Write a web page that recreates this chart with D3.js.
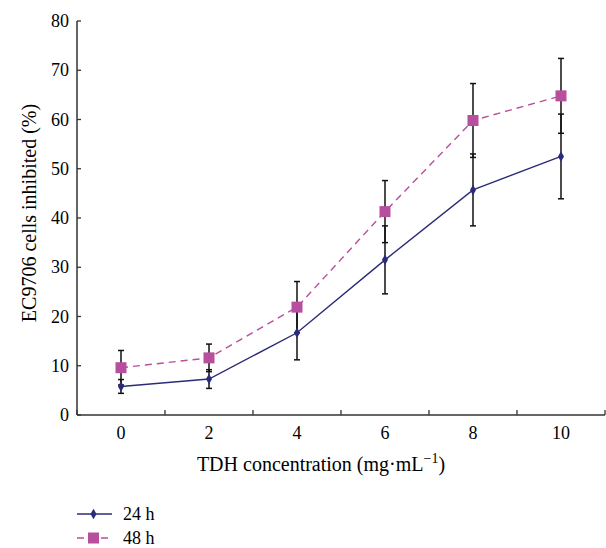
<!DOCTYPE html>
<html>
<head>
<meta charset="utf-8">
<script src="https://cdn.jsdelivr.net/npm/d3@7"></script>
<style>
  body { margin: 0; background: #fff; }
</style>
</head>
<body>
<div id="chart"></div>
<script>
var WIDTH = 606;
var HEIGHT = 548;
var FONT = "'Liberation Serif'";

var concentrations = ["0", "2", "4", "6", "8", "10"];
var yTicks = [0, 10, 20, 30, 40, 50, 60, 70, 80];

var mean24 = [5.8, 7.3, 16.7, 31.5, 45.7, 52.5];
var err24 = [1.4, 1.9, 5.5, 6.9, 7.3, 8.6];
var mean48 = [9.6, 11.6, 21.9, 41.3, 59.8, 64.8];
var err48 = [3.5, 2.8, 5.2, 6.3, 7.5, 7.6];

var seriesNames = ["24 h", "48 h"];
var COLORS = ["#2b2c78", "#b84f9e"];

var margin = {left: 77, right: 1, top: 21, bottom: 133};

var svg = d3.select("#chart").append("svg")
  .attr("width", WIDTH)
  .attr("height", HEIGHT);

var x = d3.scaleBand()
  .domain(concentrations)
  .range([margin.left, WIDTH - margin.right]);

var y = d3.scaleLinear()
  .domain([0, 80])
  .range([HEIGHT - margin.bottom, margin.top]);

// x axis: ticks between the categories, pointing up
var x0 = HEIGHT - margin.bottom;
var bounds = concentrations.map(function(c) { return x(c); }).concat([x.range()[1]]);
svg.append("line")
  .attr("x1", margin.left).attr("x2", WIDTH - margin.right)
  .attr("y1", x0).attr("y2", x0)
  .attr("stroke", "#333").attr("stroke-width", 1.5);
svg.selectAll(".xtick").data(bounds).enter().append("line")
  .attr("x1", d => d).attr("x2", d => d)
  .attr("y1", x0).attr("y2", x0 - 5)
  .attr("stroke", "#333").attr("stroke-width", 1.3);
svg.selectAll(".xlab").data(concentrations).enter().append("text")
  .attr("x", d => x(d) + x.bandwidth() / 2)
  .attr("y", x0 + 24)
  .attr("text-anchor", "middle")
  .style("font-family", FONT)
  .style("font-size", "18px")
  .text(d => d);

// y axis: ticks pointing right
svg.append("line")
  .attr("x1", margin.left).attr("x2", margin.left)
  .attr("y1", y(0)).attr("y2", y(80))
  .attr("stroke", "#333").attr("stroke-width", 1.5);
svg.selectAll(".ytick").data(yTicks).enter().append("line")
  .attr("x1", margin.left).attr("x2", margin.left + 4)
  .attr("y1", d => y(d)).attr("y2", d => y(d))
  .attr("stroke", "#333").attr("stroke-width", 1.3);
svg.selectAll(".ylab").data(yTicks).enter().append("text")
  .attr("x", margin.left - 8)
  .attr("y", d => y(d) + 6)
  .attr("text-anchor", "end")
  .style("font-family", FONT)
  .style("font-size", "18px")
  .text(d => d);

// axis titles
svg.append("text")
  .attr("transform", "translate(36,213) rotate(-90)")
  .attr("text-anchor", "middle")
  .style("font-family", FONT)
  .style("font-size", "20px")
  .text("EC9706 cells inhibited (%)");

var xt = svg.append("text")
  .attr("x", 321)
  .attr("y", 471)
  .attr("text-anchor", "middle")
  .style("font-family", FONT)
  .style("font-size", "20px");
xt.append("tspan").text("TDH concentration (mg\u00b7mL");
xt.append("tspan").attr("dy", -8).style("font-size", "14px").text("\u22121");
xt.append("tspan").attr("dy", 8).text(")");

var cx = function(i) { return x(concentrations[i]) + x.bandwidth() / 2; };

function drawErrors(means, errs) {
  var g = svg.append("g");
  means.forEach(function(m, i) {
    var top = y(m + errs[i]), bot = y(m - errs[i]);
    g.append("line").attr("x1", cx(i)).attr("x2", cx(i))
      .attr("y1", top).attr("y2", bot)
      .attr("stroke", "#111").attr("stroke-width", 1.5);
    [top, bot].forEach(function(v) {
      g.append("line").attr("x1", cx(i) - 3).attr("x2", cx(i) + 3)
        .attr("y1", v).attr("y2", v)
        .attr("stroke", "#111").attr("stroke-width", 1.5);
    });
  });
}

drawErrors(mean24, err24);
drawErrors(mean48, err48);

var line = d3.line().x((d, i) => cx(i)).y(d => y(d));

svg.append("path").datum(mean48)
  .attr("d", line).attr("fill", "none")
  .attr("stroke", COLORS[1]).attr("stroke-width", 1.4)
  .attr("stroke-dasharray", "7,5");
svg.selectAll(".sq").data(mean48).enter().append("rect")
  .attr("x", (d, i) => cx(i) - 5.5)
  .attr("y", d => y(d) - 5.5)
  .attr("width", 11).attr("height", 11)
  .attr("fill", COLORS[1]);

svg.append("path").datum(mean24)
  .attr("d", line).attr("fill", "none")
  .attr("stroke", COLORS[0]).attr("stroke-width", 1.4);
var diamond = d3.symbol().type(d3.symbolDiamond).size(32);
svg.selectAll(".dm").data(mean24).enter().append("path")
  .attr("d", diamond)
  .attr("transform", (d, i) => "translate(" + cx(i) + "," + y(d) + ")")
  .attr("fill", COLORS[0]);

// legend
var legendY = [514, 538];
seriesNames.forEach(function(name, i) {
  var ly = legendY[i];
  svg.append("line").attr("x1", 77).attr("x2", 112)
    .attr("y1", ly).attr("y2", ly)
    .attr("stroke", COLORS[i]).attr("stroke-width", 1.4)
    .attr("stroke-dasharray", i === 1 ? "7,5" : null);
  if (i === 0) {
    svg.append("path").attr("d", diamond)
      .attr("transform", "translate(93.5," + ly + ")")
      .attr("fill", COLORS[0]);
  } else {
    svg.append("rect").attr("x", 88).attr("y", ly - 5.5)
      .attr("width", 11).attr("height", 11).attr("fill", COLORS[1]);
  }
  svg.append("text").attr("x", 123).attr("y", ly + 6)
    .style("font-family", FONT)
    .style("font-size", "18px").text(name);
});
</script>
</body>
</html>
